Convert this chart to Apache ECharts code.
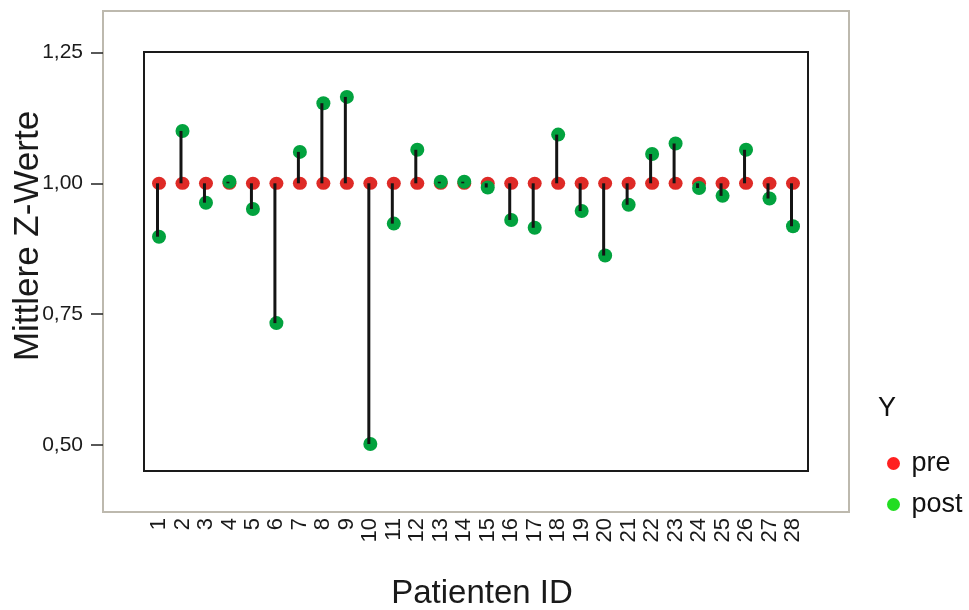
<!DOCTYPE html>
<html>
<head>
<meta charset="utf-8">
<script src="https://cdn.jsdelivr.net/npm/echarts@6/dist/echarts.min.js"></script>
<style>
html,body{margin:0;padding:0;background:#fff;}
#chart{width:969px;height:610px;}
</style>
</head>
<body>
<div id="chart"></div>
<script>
const patientIds = [1,2,3,4,5,6,7,8,9,10,11,12,13,14,15,16,17,18,19,20,21,22,23,24,25,26,27,28];
const preValues = [1.00,1.00,1.00,1.00,1.00,1.00,1.00,1.00,1.00,1.00,1.00,1.00,1.00,1.00,1.00,1.00,1.00,1.00,1.00,1.00,1.00,1.00,1.00,1.00,1.00,1.00,1.00,1.00];
const postValues = [0.898,1.100,0.963,1.003,0.951,0.733,1.060,1.153,1.165,0.502,0.923,1.064,1.003,1.003,0.992,0.930,0.915,1.093,0.947,0.862,0.959,1.056,1.076,0.991,0.976,1.064,0.971,0.918];
const yTickValues = [0.50, 0.75, 1.00, 1.25];
const seriesNames = ['pre', 'post'];

const FONT = "'Liberation Sans', Arial, sans-serif";
const chart = echarts.init(document.getElementById('chart'), null, {renderer: 'canvas'});

const option = {
  animation: false,
  backgroundColor: '#ffffff',
  grid: {
    left: 103, right: 120, top: 11, bottom: 98,
    show: true, borderColor: '#bdb9ae', borderWidth: 2, backgroundColor: '#ffffff'
  },
  xAxis: {
    type: 'value',
    min: -1.385, max: 30.385,
    axisLine: {show: false, onZero: false},
    axisTick: {show: false},
    splitLine: {show: false},
    axisLabel: {
      customValues: patientIds,
      rotate: 90,
      margin: 6,
      fontSize: 22,
      fontFamily: FONT,
      color: '#1a1a1a'
    }
  },
  yAxis: {
    type: 'value',
    min: 0.3722, max: 1.3291,
    axisLine: {show: false, onZero: false},
    splitLine: {show: false},
    axisTick: {
      show: true,
      inside: false,
      customValues: yTickValues,
      length: 12,
      lineStyle: {color: '#222', width: 1.5}
    },
    axisLabel: {
      customValues: yTickValues,
      margin: 20,
      fontSize: 21,
      fontFamily: FONT,
      color: '#1a1a1a',
      formatter: v => v.toFixed(2).replace('.', ',')
    }
  },
  legend: {
    orient: 'vertical',
    left: 882, top: 445,
    icon: 'circle',
    itemWidth: 26, itemHeight: 13,
    itemGap: 14,
    textStyle: {fontSize: 27, fontFamily: FONT, color: '#111'},
    data: [
      {name: seriesNames[0], itemStyle: {color: '#ff2020'}},
      {name: seriesNames[1], itemStyle: {color: '#22dd22'}}
    ]
  },
  graphic: [
    {type: 'rect', z: 1, silent: true,
     shape: {x: 144, y: 52, width: 664, height: 419},
     style: {fill: 'none', stroke: '#1a1a1a', lineWidth: 2}},
    {type: 'text', x: 482, y: 594, silent: true,
     style: {text: 'Patienten ID', font: "33px " + FONT, fill: '#1a1a1a', textAlign: 'center', textVerticalAlign: 'middle'}},
    {type: 'text', x: 28, y: 236, rotation: Math.PI / 2, silent: true,
     style: {text: 'Mittlere Z-Werte', font: "35px " + FONT, fill: '#1a1a1a', textAlign: 'center', textVerticalAlign: 'middle'}},
    {type: 'text', x: 878, y: 409, silent: true,
     style: {text: 'Y', font: "27px " + FONT, fill: '#111', textAlign: 'left', textVerticalAlign: 'middle'}}
  ],
  series: [
    {
      name: seriesNames[0], type: 'scatter', z: 2,
      symbol: 'circle', symbolSize: [14, 13],
      itemStyle: {color: '#de2a26', opacity: 1},
      data: patientIds.map((id, i) => [id, preValues[i]])
    },
    {
      name: seriesNames[1], type: 'scatter', z: 3,
      symbol: 'circle', symbolSize: 14,
      itemStyle: {color: '#02a23e', opacity: 1},
      data: patientIds.map((id, i) => [id, postValues[i]])
    },
    {
      name: 'diff', type: 'custom', z: 4,
      encode: {x: 0, y: [1, 2]},
      renderItem: function (params, api) {
        const x = api.value(0);
        const a = api.coord([x, api.value(1)]);
        const b = api.coord([x, api.value(2)]);
        return {
          type: 'line',
          shape: {x1: a[0] - 1.5, y1: a[1], x2: b[0] - 1.5, y2: b[1]},
          style: {stroke: '#141414', lineWidth: 3}
        };
      },
      data: patientIds.map((id, i) => [id, preValues[i], postValues[i]])
    }
  ]
};
chart.setOption(option);
</script>
</body>
</html>
